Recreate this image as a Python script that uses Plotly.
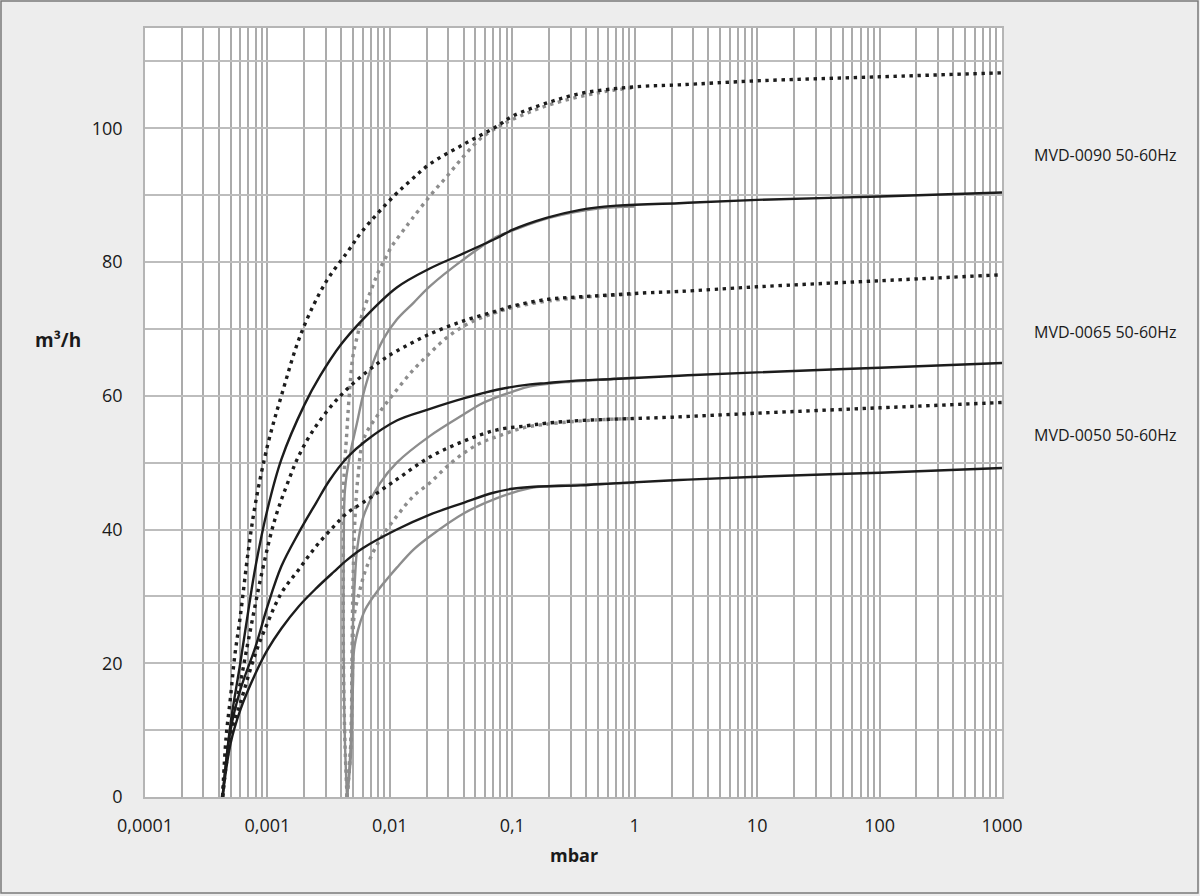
import plotly.graph_objects as go

# ---------------- data ----------------
# MVD-0090
bd90_x = [0.00043, 0.00046, 0.0005, 0.00054, 0.0006, 0.0007, 0.0008, 0.001, 0.0013, 0.0019, 0.003, 0.0045, 0.006, 0.0107, 0.015, 0.021, 0.04, 0.075, 0.1, 0.2, 0.36, 0.67, 1.2, 2.3, 10, 100, 1000]
bd90_y = [0, 9, 15, 21, 27, 37, 44, 52.5, 60, 69.5, 77, 81.5, 84.7, 89.8, 92.3, 94.6, 97.6, 100.3, 101.8, 103.9, 105.2, 105.9, 106.3, 106.5, 107.1, 107.7, 108.3]
bs90_x = [0.00043, 0.0005, 0.0006, 0.0007, 0.0008, 0.001, 0.0013, 0.002, 0.0027, 0.004, 0.006, 0.0114, 0.021, 0.04, 0.075, 0.1, 0.19, 0.36, 0.67, 2.3, 10, 100, 1000]
bs90_y = [0, 11, 20, 28, 34.5, 43, 50.5, 58.6, 63, 67.7, 71.4, 76.2, 79, 81.3, 83.6, 84.8, 86.6, 87.8, 88.4, 88.8, 89.3, 89.8, 90.4]
gd90_x = [0.00447, 0.0043, 0.00418, 0.00417, 0.0042, 0.00445, 0.0047, 0.005, 0.0055, 0.006, 0.0071, 0.008, 0.0091, 0.0104, 0.0125, 0.0151, 0.0213, 0.0292, 0.04, 0.0545, 0.075, 0.1, 0.2, 0.5, 1.0]
gd90_y = [0, 8, 20, 35, 47, 54.5, 61, 66, 69.4, 72.5, 76, 78.4, 80.4, 82.4, 84.4, 86.4, 89.9, 92.8, 95.8, 98.4, 100.1, 101.3, 103.5, 105.3, 106.1]
gs90_x = [0.00447, 0.0043, 0.0042, 0.0042, 0.0043, 0.0047, 0.0054, 0.0061, 0.0073, 0.0088, 0.0114, 0.0156, 0.0213, 0.04, 0.075, 0.1, 0.2, 0.5, 1.0]
gs90_y = [0, 8, 20, 38, 46, 51, 56, 60.4, 65, 68.4, 71.4, 73.9, 76.4, 80.4, 83.8, 84.7, 86.6, 88, 88.3]

# MVD-0065
bd65_x = [0.00043, 0.0005, 0.0006, 0.0007, 0.0009, 0.00115, 0.0015, 0.0018, 0.0023, 0.0031, 0.0043, 0.0063, 0.0086, 0.0114, 0.021, 0.04, 0.075, 0.1, 0.19, 0.36, 0.67, 1.25, 2.3, 10, 100, 1000]
bd65_y = [0, 10, 17, 23.5, 33.5, 41.5, 47.5, 51, 54.5, 57.8, 60.7, 63.4, 65.3, 66.7, 69.2, 71.2, 72.7, 73.4, 74.4, 74.8, 75.1, 75.4, 75.6, 76.3, 77.2, 78.1]
bs65_x = [0.00043, 0.0005, 0.0006, 0.0008, 0.001, 0.0013, 0.0018, 0.0025, 0.0032, 0.0045, 0.0063, 0.0114, 0.021, 0.04, 0.075, 0.14, 0.19, 0.36, 0.67, 2.3, 10, 100, 1000]
bs65_y = [0, 10, 16, 22.5, 28.5, 34.5, 39.5, 44, 47.3, 50.8, 53.2, 56.3, 58, 59.6, 60.9, 61.7, 61.9, 62.3, 62.5, 63, 63.5, 64.2, 64.9]
gd65_x = [0.00447, 0.0048, 0.0049, 0.005, 0.0052, 0.0055, 0.0061, 0.0083, 0.0114, 0.0156, 0.0213, 0.0292, 0.04, 0.0545, 0.075, 0.1, 0.2, 0.5, 1.0]
gd65_y = [0, 8, 20, 32, 42, 48, 53.5, 57.6, 60.9, 63.9, 66.4, 68.7, 70.4, 71.6, 72.5, 73.2, 74.2, 74.9, 75.2]
gs65_x = [0.00447, 0.0048, 0.0049, 0.005, 0.0052, 0.0054, 0.0061, 0.0083, 0.0114, 0.0213, 0.04, 0.0545, 0.075, 0.1, 0.14, 0.3, 1.0]
gs65_y = [0, 8, 18, 26, 33, 37, 42, 46.9, 50, 54, 57.2, 58.7, 59.8, 60.6, 61.4, 62.1, 62.7]

# MVD-0050
bd50_x = [0.00043, 0.0005, 0.0006, 0.0008, 0.001, 0.0013, 0.0018, 0.0025, 0.0035, 0.0045, 0.006, 0.0114, 0.021, 0.04, 0.075, 0.13, 0.19, 0.36, 0.67, 2.0, 10, 100, 1000]
bd50_y = [0, 9, 14, 21.5, 26, 30.5, 34, 37.5, 40.5, 42.5, 44, 47.5, 50.8, 53.2, 54.9, 55.5, 55.9, 56.3, 56.5, 56.8, 57.4, 58.2, 59.0]
bs50_x = [0.00043, 0.0005, 0.0006, 0.0008, 0.001, 0.0013, 0.0018, 0.0025, 0.0035, 0.0045, 0.006, 0.0114, 0.021, 0.04, 0.07, 0.1, 0.15, 0.36, 0.67, 2.3, 10, 100, 1000]
bs50_y = [0, 8, 13, 18.5, 22, 25.2, 28.5, 31.2, 33.7, 35.5, 37.2, 40, 42.2, 44, 45.5, 46.1, 46.4, 46.6, 46.9, 47.4, 47.9, 48.5, 49.2]
gd50_x = [0.00447, 0.0048, 0.0049, 0.005, 0.0051, 0.0057, 0.0065, 0.0083, 0.0114, 0.0156, 0.0213, 0.0292, 0.04, 0.0545, 0.075, 0.123, 0.2, 0.5, 1.0]
gd50_y = [0, 8, 15, 22, 27, 31, 34.5, 38.5, 42, 45, 47, 49.4, 51.4, 52.9, 53.9, 55.2, 55.8, 56.4, 56.6]
gs50_x = [0.00447, 0.0048, 0.0049, 0.005, 0.0051, 0.0055, 0.0061, 0.0065, 0.0083, 0.0095, 0.0114, 0.0156, 0.0213, 0.04, 0.075, 0.14, 0.2, 0.5, 1.0]
gs50_y = [0, 6, 12, 17, 22, 25, 27.5, 28.5, 31.3, 32.6, 34.3, 37, 39, 42.4, 44.7, 46.2, 46.5, 46.8, 47.0]

x_major = [0.0001, 0.001, 0.01, 0.1, 1, 10, 100, 1000]
x_major_text = ["0,0001", "0,001", "0,01", "0,1", "1", "10", "100", "1000"]
y_ticks = [0, 10, 20, 30, 40, 50, 60, 70, 80, 90, 100, 110]
y_labels = ["0", "", "20", "", "40", "", "60", "", "80", "", "100", ""]

model_labels = ["MVD-0090 50-60Hz", "MVD-0065 50-60Hz", "MVD-0050 50-60Hz"]
model_label_y = [96.0, 69.5, 54.2]

# ---------------- styling ----------------
BLACK = "#1c1c1c"
GRAY = "#8d8d8d"
FONT = "Open Sans"

fig = go.Figure()

def add(x, y, color, dotted):
    fig.add_trace(go.Scatter(
        x=x, y=y, mode="lines",
        line=dict(color=color, width=3.4 if dotted else 2.4,
                  dash="3.4px,4.6px" if dotted else "solid",
                  shape="spline", smoothing=1.0),
        showlegend=False, hoverinfo="skip"))

# gray first, black on top
for gx, gy, d in [(gs90_x, gs90_y, False), (gd90_x, gd90_y, True),
                  (gs65_x, gs65_y, False), (gd65_x, gd65_y, True),
                  (gs50_x, gs50_y, False), (gd50_x, gd50_y, True)]:
    add(gx, gy, GRAY, d)
for bx, by, d in [(bs90_x, bs90_y, False), (bd90_x, bd90_y, True),
                  (bs65_x, bs65_y, False), (bd65_x, bd65_y, True),
                  (bs50_x, bs50_y, False), (bd50_x, bd50_y, True)]:
    add(bx, by, BLACK, d)

# all log grid positions (1..9 per decade)
x_tickvals, x_ticktext = [], []
for i, dec in enumerate(x_major):
    if i == len(x_major) - 1:
        x_tickvals.append(dec)
        x_ticktext.append(x_major_text[i])
        break
    for m in range(1, 10):
        x_tickvals.append(dec * m)
        x_ticktext.append(x_major_text[i] if m == 1 else "")

L, R, T, B = 145, 198, 28, 99
W, H = 1200, 896
pw, ph = W - L - R, H - T - B

fig.update_layout(
    width=W, height=H,
    margin=dict(l=L, r=R, t=T, b=B),
    paper_bgcolor="#ededed", plot_bgcolor="#ffffff",
    font=dict(family=FONT, size=18, color="#1a1a1a"),
    xaxis=dict(type="log", range=[-4, 3], tickmode="array",
               tickvals=x_tickvals, ticktext=x_ticktext,
               showgrid=True, gridcolor="#ababab", gridwidth=1.6,
               showline=True, linecolor="#b5b5b5", linewidth=1.5, mirror=True,
               ticks="", ticklabelstandoff=12, zeroline=False),
    yaxis=dict(range=[0, 115], tickmode="array", tickvals=y_ticks, ticktext=y_labels,
               showgrid=True, gridcolor="#bdbdbd", gridwidth=1.6,
               showline=True, linecolor="#b5b5b5", linewidth=1.5, mirror=True,
               ticks="", ticklabelstandoff=17, zeroline=False),
)

# axis titles (horizontal, as in the reference)
fig.add_annotation(text="<b>mbar</b>", xref="paper", yref="paper",
                   x=0.5, y=-(855 - 797) / ph, xanchor="center", yanchor="middle",
                   showarrow=False, font=dict(family=FONT, size=18, color="#1a1a1a"))
fig.add_annotation(text="<b>m³/h</b>", xref="paper", yref="y",
                   x=(58 - L) / pw, y=68.4, xanchor="center", yanchor="middle",
                   showarrow=False, font=dict(family=FONT, size=19, color="#1a1a1a"))

for txt, yy in zip(model_labels, model_label_y):
    fig.add_annotation(text=txt, xref="paper", yref="y", x=(1032 - L) / pw, y=yy,
                       xanchor="left", yanchor="middle", showarrow=False,
                       font=dict(family=FONT, size=16, color="#1a1a1a"))

# outer frame
fig.add_shape(type="rect", xref="paper", yref="paper",
              x0=(1 - L) / pw, x1=(1198 - L) / pw,
              y0=-(893 - (H - B)) / ph, y1=1 + (T - 1) / ph,
              line=dict(color="#7a7a7a", width=1.5), fillcolor="rgba(0,0,0,0)", layer="below")

fig.write_html("out.html")
